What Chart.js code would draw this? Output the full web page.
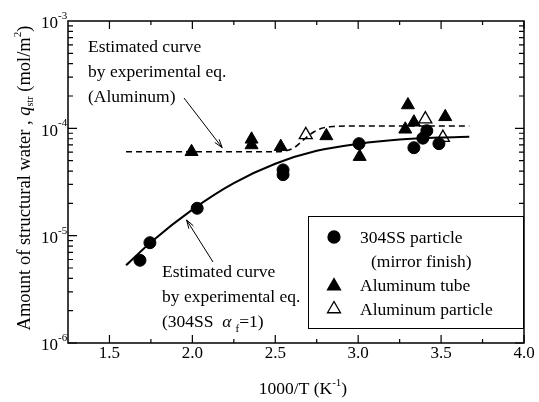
<!DOCTYPE html>
<html>
<head>
<meta charset="utf-8">
<script src="https://cdn.jsdelivr.net/npm/chart.js@4"></script>
<style>
  html, body { margin: 0; padding: 0; background: #fff; }
  #wrap { width: 539px; height: 402px; }
</style>
</head>
<body>
<div id="wrap"><canvas id="chart" width="539" height="402"></canvas></div>
<script>
// 304SS particle (mirror finish)
const ssX = [1.684, 1.744, 2.029, 2.547, 2.547, 3.005, 3.336, 3.39, 3.414, 3.487];
const ssY = [5.9e-6, 8.6e-6, 1.8e-5, 4.1e-5, 3.7e-5, 7.2e-5, 6.6e-5, 8.1e-5, 9.5e-5, 7.2e-5];
// Aluminum tube
const tubeX = [1.995, 2.357, 2.357, 2.533, 2.808, 3.009, 3.284, 3.30, 3.336, 3.525];
const tubeY = [6.05e-5, 7.9e-5, 7.0e-5, 6.75e-5, 8.5e-5, 5.45e-5, 9.8e-5, 1.65e-4, 1.14e-4, 1.28e-4];
// Aluminum particle
const partX = [2.684, 3.405, 3.511];
const partY = [8.7e-5, 1.22e-4, 8.2e-5];
// estimated curves
const alCurveX = [1.6, 2.5, 2.56, 2.62, 2.67, 2.72, 2.78, 2.85, 2.95, 3.67];
const alCurveY = [6.05e-5, 6.05e-5, 6.15e-5, 6.7e-5, 7.8e-5, 9.0e-5, 1.0e-4, 1.04e-4, 1.05e-4, 1.05e-4];
const ssCurveX = [1.6, 1.75, 2.0, 2.25, 2.5, 2.75, 3.0, 3.25, 3.5, 3.67];
const ssCurveY = [5.3e-6, 8.7e-6, 1.75e-5, 3.09e-5, 4.68e-5, 6.17e-5, 7.16e-5, 7.85e-5, 8.22e-5, 8.36e-5];
// axes
const xTicks = [1.5, 2.0, 2.5, 3.0, 3.5, 4.0];
const yExps = [-6, -5, -4, -3];

const pts = (xs, ys) => xs.map((x, i) => ({ x: x, y: ys[i] }));
const serif = '"Liberation Serif", "DejaVu Serif", serif';

function arrow(ctx, x1, y1, x2, y2) {
  ctx.beginPath();
  ctx.moveTo(x1, y1);
  ctx.lineTo(x2, y2);
  ctx.stroke();
  let a = Math.atan2(y2 - y1, x2 - x1);
  ctx.beginPath();
  ctx.moveTo(x2, y2);
  ctx.lineTo(x2 - 9 * Math.cos(a - 0.3), y2 - 9 * Math.sin(a - 0.3));
  ctx.moveTo(x2, y2);
  ctx.lineTo(x2 - 9 * Math.cos(a + 0.3), y2 - 9 * Math.sin(a + 0.3));
  ctx.stroke();
}

function marker(ctx, style, x, y, fill) {
  ctx.save();
  ctx.lineWidth = 1.3;
  ctx.strokeStyle = '#000';
  ctx.fillStyle = fill;
  ctx.beginPath();
  if (style === 'circle') {
    ctx.arc(x, y, 6, 0, Math.PI * 2);
  } else {
    let r = 7.5;
    let e = r * Math.sqrt(3);
    let h = e * Math.sqrt(3) / 2;
    ctx.moveTo(x - e / 2, y + h / 3);
    ctx.lineTo(x + e / 2, y + h / 3);
    ctx.lineTo(x, y - 2 * h / 3);
    ctx.closePath();
  }
  ctx.fill();
  ctx.stroke();
  ctx.restore();
}

const decor = {
  id: 'decor',
  afterDraw(chart) {
    let ctx = chart.ctx;
    let xs = chart.scales.x, ys = chart.scales.y;
    let a = chart.chartArea;
    ctx.save();
    ctx.strokeStyle = '#000';
    ctx.fillStyle = '#000';
    ctx.lineWidth = 1.5;
    ctx.strokeRect(a.left, a.top, a.right - a.left, a.bottom - a.top);

    // x ticks (inward, top and bottom)
    ctx.lineWidth = 1.2;
    for (let v = 1.5; v <= 4.0001; v += 0.25) {
      let px = xs.getPixelForValue(v);
      let major = Math.abs(v * 2 - Math.round(v * 2)) < 1e-6;
      let len = major ? 8 : 4;
      ctx.beginPath();
      ctx.moveTo(px, a.bottom); ctx.lineTo(px, a.bottom - len);
      ctx.moveTo(px, a.top); ctx.lineTo(px, a.top + len);
      ctx.stroke();
    }
    ctx.font = '17px ' + serif;
    ctx.textAlign = 'center';
    ctx.textBaseline = 'middle';
    xTicks.forEach(v => {
      ctx.fillText(v.toFixed(1), xs.getPixelForValue(v), a.bottom + 11);
    });

    // y ticks (log, inward, left and right)
    for (let e = -6; e < -3; e++) {
      for (let m = 1; m < 10; m++) {
        let py = ys.getPixelForValue(m * Math.pow(10, e));
        let len = m === 1 ? 9 : 5;
        ctx.beginPath();
        ctx.moveTo(a.left, py); ctx.lineTo(a.left + len, py);
        ctx.moveTo(a.right, py); ctx.lineTo(a.right - len, py);
        ctx.stroke();
      }
    }
    yExps.forEach(e => {
      let py = ys.getPixelForValue(Math.pow(10, e));
      ctx.font = '17px ' + serif;
      ctx.textAlign = 'right';
      ctx.fillText('10', a.left - 10, py + 3);
      ctx.font = '11px ' + serif;
      ctx.textAlign = 'left';
      ctx.fillText(String(e), a.left - 10, py - 5);
    });

    // x title
    ctx.font = '17.5px ' + serif;
    ctx.textAlign = 'left';
    let t1 = '1000/T (K';
    let w1 = ctx.measureText(t1).width;
    ctx.font = '11px ' + serif;
    let w2 = ctx.measureText('-1').width;
    ctx.font = '17.5px ' + serif;
    let w3 = ctx.measureText(')').width;
    let x0 = 303 - (w1 + w2 + w3) / 2;
    let ty = 389;
    ctx.fillText(t1, x0, ty);
    ctx.font = '11px ' + serif;
    ctx.fillText('-1', x0 + w1, ty - 6);
    ctx.font = '17.5px ' + serif;
    ctx.fillText(')', x0 + w1 + w2, ty);

    // y title (rotated)
    ctx.save();
    ctx.translate(25, 178);
    ctx.rotate(-Math.PI / 2);
    let parts = [
      { t: 'Amount of structural water , ', f: '18.5px ' + serif, dy: 0 },
      { t: 'q', f: 'italic 18.5px ' + serif, dy: 0 },
      { t: 'str', f: '10px ' + serif, dy: 5 },
      { t: ' (mol/m', f: '18.5px ' + serif, dy: 0 },
      { t: '2', f: '11px ' + serif, dy: -7 },
      { t: ')', f: '18.5px ' + serif, dy: 0 }
    ];
    let total = 0;
    parts.forEach(p => { ctx.font = p.f; p.w = ctx.measureText(p.t).width; total += p.w; });
    let cx = -total / 2;
    parts.forEach(p => { ctx.font = p.f; ctx.fillText(p.t, cx, p.dy); cx += p.w; });
    ctx.restore();

    // annotations
    let fs = '17.5px ' + serif;
    ctx.font = fs;
    ctx.textAlign = 'left';
    ctx.fillText('Estimated curve', 88, 47);
    ctx.fillText('by experimental eq.', 88, 72);
    ctx.fillText('(Aluminum)', 88, 97);
    ctx.lineWidth = 1;
    arrow(ctx, 184, 98, xs.getPixelForValue(2.18), ys.getPixelForValue(6.6e-5));

    ctx.fillText('Estimated curve', 162, 272);
    ctx.fillText('by experimental eq.', 162, 297);
    ctx.fillText('(304SS  ', 162, 322);
    let ax = 162 + ctx.measureText('(304SS  ').width;
    ctx.font = 'italic ' + fs;
    ctx.fillText('α', ax, 322);
    ax += ctx.measureText('α').width + 4;
    ctx.font = '11px ' + serif;
    ctx.fillText('f', ax, 329);
    ax += ctx.measureText('f').width;
    ctx.font = fs;
    ctx.fillText('=1)', ax, 322);
    arrow(ctx, 213, 262, xs.getPixelForValue(1.965), ys.getPixelForValue(1.4e-5));

    // legend
    ctx.lineWidth = 1;
    ctx.fillStyle = '#fff';
    ctx.fillRect(308, 216, 215, 112);
    ctx.strokeRect(308.5, 216.5, 215, 112);
    ctx.fillStyle = '#000';
    marker(ctx, 'circle', 334, 237, '#000');
    marker(ctx, 'triangle', 334, 286, '#000');
    marker(ctx, 'triangle', 334, 309, '#fff');
    ctx.font = fs;
    ctx.fillText('304SS particle', 360, 238);
    ctx.fillText('(mirror finish)', 371, 262);
    ctx.fillText('Aluminum tube', 360, 286);
    ctx.fillText('Aluminum particle', 360, 310);
    ctx.restore();
  }
};

new Chart(document.getElementById('chart').getContext('2d'), {
  type: 'scatter',
  data: {
    datasets: [
      {
        label: 'Estimated curve (Aluminum)',
        data: pts(alCurveX, alCurveY),
        showLine: true,
        borderColor: '#000',
        borderWidth: 1.6,
        borderDash: [6, 4],
        pointRadius: 0,
        cubicInterpolationMode: 'monotone'
      },
      {
        label: 'Estimated curve (304SS)',
        data: pts(ssCurveX, ssCurveY),
        showLine: true,
        borderColor: '#000',
        borderWidth: 2,
        pointRadius: 0,
        cubicInterpolationMode: 'monotone'
      },
      {
        label: '304SS particle (mirror finish)',
        data: pts(ssX, ssY),
        pointStyle: 'circle',
        pointRadius: 6,
        backgroundColor: '#000',
        borderColor: '#000'
      },
      {
        label: 'Aluminum tube',
        data: pts(tubeX, tubeY),
        pointStyle: 'triangle',
        pointRadius: 7.5,
        backgroundColor: '#000',
        borderColor: '#000'
      },
      {
        label: 'Aluminum particle',
        data: pts(partX, partY),
        pointStyle: 'triangle',
        pointRadius: 7.5,
        backgroundColor: '#fff',
        borderColor: '#000',
        borderWidth: 1.3
      }
    ]
  },
  options: {
    responsive: false,
    animation: false,
    layout: { padding: { left: 68, top: 21, right: 15, bottom: 59 } },
    plugins: { legend: { display: false }, tooltip: { enabled: false } },
    scales: {
      x: { type: 'linear', display: false, min: 1.25, max: 4.0 },
      y: { type: 'logarithmic', display: false, min: 1e-6, max: 1e-3 }
    }
  },
  plugins: [decor]
});
</script>
</body>
</html>
